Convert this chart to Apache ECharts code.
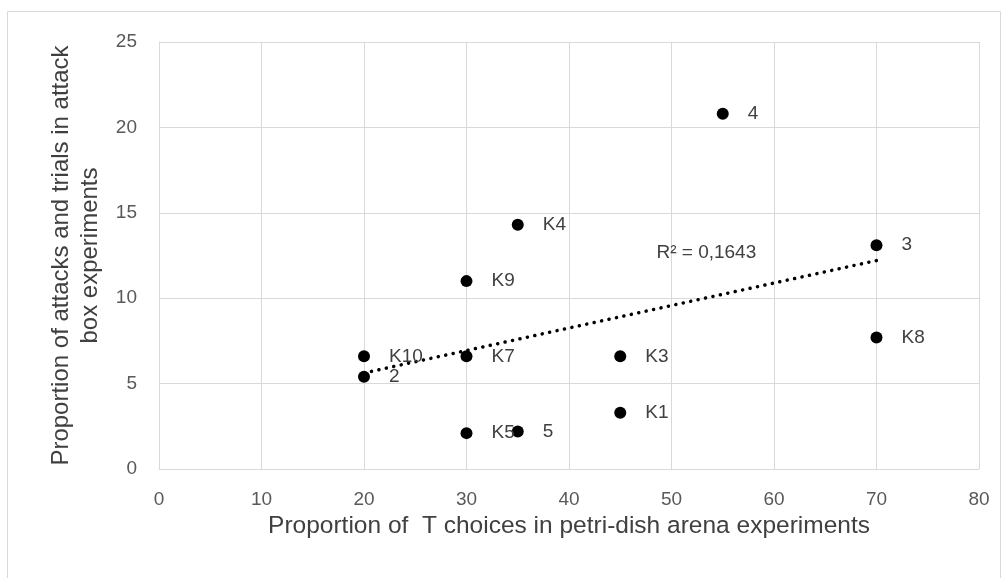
<!DOCTYPE html>
<html><head><meta charset="utf-8">
<script src="https://cdn.jsdelivr.net/npm/echarts@6/dist/echarts.min.js"></script>
<style>html,body{margin:0;padding:0;background:#fff}#c{width:1008px;height:578px}</style>
</head><body><div id="c"></div>
<script>
const labels = ['K10','2','K7','K9','K4','4','3','K8','K3','K1','K5','5'];
const xValues = [20,20,30,30,35,55,70,70,45,45,30,35];
const yValues = [6.6,5.4,6.6,11,14.3,20.8,13.1,7.7,6.6,3.3,2.1,2.2];
const xTicks = [0,10,20,30,40,50,60,70,80];
const yTicks = [0,5,10,15,20,25];
const r2Text = 'R² = 0,1643';
const r2Pos = [53.4,12.65];

const n = xValues.length;
const mx = xValues.reduce((a,b)=>a+b,0)/n, my = yValues.reduce((a,b)=>a+b,0)/n;
let sxy=0,sxx=0;
for(let i=0;i<n;i++){sxy+=(xValues[i]-mx)*(yValues[i]-my);sxx+=(xValues[i]-mx)**2;}
const slope=sxy/sxx, icpt=my-slope*mx;
const xmin=Math.min(...xValues), xmax=Math.max(...xValues);
const trend=[[xmin,icpt+slope*xmin],[xmax,icpt+slope*xmax]];

const font='Liberation Sans';
const chart=echarts.init(document.getElementById('c'));
chart.setOption({
  animation:false,
  textStyle:{fontFamily:font},
  graphic:[{type:'rect',shape:{x:7.5,y:11.5,width:993,height:570},style:{fill:'none',stroke:'#d9d9d9',lineWidth:1}}],
  grid:{left:159,right:29,top:42,bottom:109},
  xAxis:{type:'value',min:0,max:80,interval:10,
    name:'Proportion of  T choices in petri-dish arena experiments',nameLocation:'middle',nameGap:42,
    nameTextStyle:{fontSize:24.5,color:'#404040',fontFamily:font},
    axisLine:{show:true,lineStyle:{color:'#d9d9d9'}},axisTick:{show:false},
    axisLabel:{fontSize:19,color:'#595959',margin:21,formatter:v=>xTicks.includes(v)?String(v):''},
    splitLine:{show:true,lineStyle:{color:'#d9d9d9'}}},
  yAxis:{type:'value',min:0,max:25,interval:5,
    name:'Proportion of attacks and trials in attack\nbox experiments',nameLocation:'middle',nameGap:54,
    nameTextStyle:{fontSize:24,color:'#404040',lineHeight:29,fontFamily:font},
    axisLine:{show:true,lineStyle:{color:'#d9d9d9'}},axisTick:{show:false},
    axisLabel:{fontSize:19,color:'#595959',margin:22,formatter:v=>yTicks.includes(v)?String(v):''},
    splitLine:{show:true,lineStyle:{color:'#d9d9d9'}}},
  series:[
    {type:'line',data:trend,symbol:'none',silent:true,z:3,
      lineStyle:{color:'#000',width:3.5,type:[0.1,7.5],cap:'round'},
      markPoint:{symbol:'circle',symbolSize:0,data:[{coord:r2Pos,value:r2Text}],
        label:{show:true,formatter:r2Text,fontSize:19,color:'#404040',position:'inside'}}},
    {type:'scatter',z:4,symbol:'circle',symbolSize:12,itemStyle:{color:'#000',opacity:1},
      data:xValues.map((x,i)=>({value:[x,yValues[i]],name:labels[i]})),
      label:{show:true,position:'right',distance:19,formatter:p=>p.name,fontSize:19,color:'#404040'}}
  ]
});
</script></body></html>
